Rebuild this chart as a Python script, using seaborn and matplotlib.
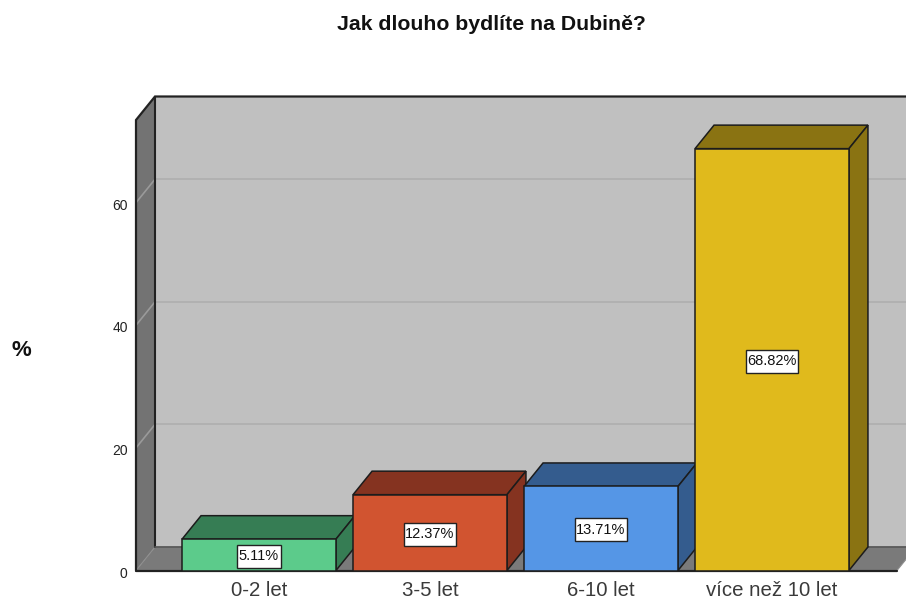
import matplotlib
matplotlib.use('Agg')
import matplotlib.pyplot as plt
import matplotlib.transforms as mtransforms
import pandas as pd
import seaborn as sns
from matplotlib.patches import Polygon
from matplotlib.path import Path

# values
categories = ['0-2 let', '3-5 let', '6-10 let', 'více než 10 let']
percents = [5.11, 12.37, 13.71, 68.82]
y_ticks = [0, 20, 40, 60]
front_colors = ['#5CCB8B', '#D15430', '#5596E6', '#E0BA1C']
side_colors = ['#367D54', '#853320', '#345C8E', '#8A7312']

W, H = 906, 598
sns.set_theme(style='white')
plt.rcParams['font.family'] = ['Liberation Sans', 'DejaVu Sans']

fig = plt.figure(figsize=(W / 100, H / 100), dpi=100)
# front box of the 3D frame, in pixels: x 136-897, y 120-570.5
ax = fig.add_axes([136 / W, 1 - 570.5 / H, (897 - 136) / W, (570.5 - 120) / H])

df = pd.DataFrame({'kategorie': categories, 'procent': percents})
sns.barplot(data=df, x='kategorie', y='procent', hue='kategorie', palette=front_colors,
            width=0.9, saturation=1, legend=False, ax=ax, edgecolor='#1c1c1c', linewidth=1.1)

# scales: one category = 171 px, one percent = 6.13 px
px_x = 1 / 171
px_y = 1 / 6.13
xmin = -(259 - 136) * px_x
xmax = xmin + (897 - 136) * px_x
ymax = (570.5 - 120) * px_y
ax.set_xlim(xmin, xmax)
ax.set_ylim(0, ymax)
dx = 19 * px_x
dy = 23.5 * px_y

for s in ax.spines.values():
    s.set_visible(False)
ax.patch.set_visible(False)


def face(points, color, z, edge='#1c1c1c', lw=1.1):
    ax.add_patch(Polygon(points, closed=True, facecolor=color, edgecolor=edge, linewidth=lw,
                         zorder=z, clip_on=False, joinstyle='miter'))


# label box: small side padding, taller than the text
def label_box(x0, y0, width, height, mutation_size):
    x0 -= 1.5
    x1 = x0 + width + 3
    yc = y0 + height / 2
    h = 11.5
    return Path([(x0, yc - h), (x1, yc - h), (x1, yc + h), (x0, yc + h), (x0, yc - h)],
                closed=True)


# walls and floor
face([(xmin + dx, dy), (xmax + dx, dy), (xmax + dx, ymax + dy), (xmin + dx, ymax + dy)],
     '#C0C0C0', 0.5, edge='none', lw=0)
face([(xmin, 0), (xmin + dx, dy), (xmin + dx, ymax + dy), (xmin, ymax)], '#737373', 0.6, edge='none', lw=0)
face([(xmin, 0), (xmax, 0), (xmax + dx, dy), (xmin + dx, dy)], '#7A7A7A', 0.6, edge='#8E8E8E', lw=0.8)

# gridlines on the back and left walls
for v in y_ticks[1:]:
    ax.plot([xmin, xmin + dx], [v, v + dy], color='#9A9A9A', lw=1.2, zorder=0.8, clip_on=False)
    ax.plot([xmin + dx, xmax + dx], [v + dy, v + dy], color='#B0B0B0', lw=1.3, zorder=0.8, clip_on=False)

# frame lines
ax.plot([xmin, xmin, xmin + dx, xmax + dx], [0, ymax, ymax + dy, ymax + dy], color='#222222', lw=1.6,
        zorder=1, clip_on=False, solid_joinstyle='miter')
ax.plot([xmin + dx, xmin + dx], [dy, ymax + dy], color='#222222', lw=1.5, zorder=1, clip_on=False)
ax.plot([xmin + dx, xmax + dx], [dy, dy], color='#555555', lw=1.2, zorder=1, clip_on=False)
ax.plot([xmin, xmax], [0, 0], color='#222222', lw=1.6, zorder=1, clip_on=False)

# 3D faces of every bar, built from the bars seaborn drew
for i, bar in enumerate(ax.patches[:len(categories)]):
    z = 3 + i
    x0 = bar.get_x()
    x1 = x0 + bar.get_width()
    top = bar.get_height()
    bar.set_zorder(z + 0.2)
    face([(x0, top), (x1, top), (x1 + dx, top + dy), (x0 + dx, top + dy)], side_colors[i], z)
    face([(x1, 0), (x1 + dx, dy), (x1 + dx, top + dy), (x1, top)], side_colors[i], z)
    ax.text(x0 + bar.get_width() / 2, top / 2, f'{percents[i]:.2f}%', ha='center', va='center_baseline',
            fontsize=10.5, color='#111111', zorder=20,
            bbox=dict(boxstyle=label_box, facecolor='white', edgecolor='#222222', linewidth=1.0))

ax.set_xlabel('')
ax.set_ylabel('')
ax.set_yticks(y_ticks)
ax.set_xticks(range(len(categories)))
ax.set_xticklabels(categories, fontsize=14.7, color='#3a3a3a')
ax.tick_params(axis='x', length=0, pad=7.5)
ax.tick_params(axis='y', length=0, pad=6, labelsize=10, labelcolor='#222222')

# y tick labels sit a little below their gridline
shift = mtransforms.ScaledTranslation(0, -1.5 / 100, fig.dpi_scale_trans)
for lab in ax.get_yticklabels():
    lab.set_transform(lab.get_transform() + shift)

fig.text(491.5 / W, 1 - 25 / H, 'Jak dlouho bydlíte na Dubině?', ha='center', va='center',
         fontsize=15.3, fontweight='bold', color='#111111')
fig.text(21 / W, 1 - 351 / H, '%', ha='center', va='center', fontsize=16, fontweight='bold', color='#111111')

fig.savefig('out.png', dpi=100, facecolor='white')
